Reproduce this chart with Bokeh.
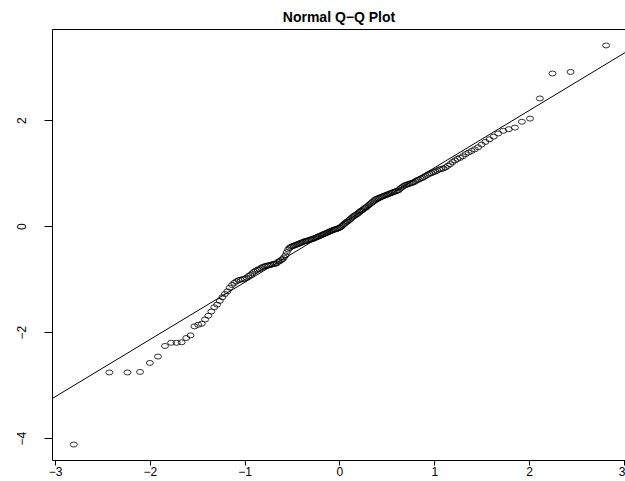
import numpy as np
from statistics import NormalDist
from bokeh.plotting import figure
from bokeh.models import Range1d, FixedTicker, LinearAxis, Slope, Title, ColumnDataSource
from bokeh.embed import file_html
from bokeh.resources import INLINE

# Sample values (sorted)
sample = [
    -4.11, -2.75, -2.75, -2.74, -2.57, -2.45, -2.25, -2.19, -2.19, -2.18,
    -2.10, -2.05, -1.88, -1.85, -1.83, -1.75, -1.68, -1.60, -1.52, -1.47,
    -1.40, -1.33, -1.27, -1.22, -1.15, -1.10, -1.06, -1.03, -1.01, -1.00,
    -0.99, -0.98, -0.96, -0.93, -0.91, -0.88, -0.85, -0.83, -0.81, -0.80,
    -0.78, -0.76, -0.75, -0.74, -0.73, -0.73, -0.72, -0.71, -0.70, -0.70,
    -0.69, -0.66, -0.65, -0.63, -0.61, -0.58, -0.54, -0.48, -0.43, -0.40,
    -0.38, -0.37, -0.36, -0.35, -0.34, -0.33, -0.32, -0.31, -0.30, -0.29,
    -0.28, -0.27, -0.27, -0.26, -0.25, -0.24, -0.24, -0.23, -0.22, -0.21,
    -0.20, -0.19, -0.18, -0.17, -0.16, -0.15, -0.14, -0.13, -0.12, -0.11,
    -0.10, -0.09, -0.08, -0.07, -0.06, -0.05, -0.05, -0.04, -0.03, -0.02,
    -0.01, 0.01, 0.03, 0.05, 0.07, 0.09, 0.10, 0.12, 0.14, 0.16,
    0.18, 0.20, 0.21, 0.23, 0.24, 0.26, 0.28, 0.30, 0.31, 0.33,
    0.35, 0.36, 0.38, 0.40, 0.42, 0.44, 0.46, 0.48, 0.50, 0.52,
    0.53, 0.54, 0.55, 0.56, 0.57, 0.58, 0.59, 0.60, 0.61, 0.62,
    0.63, 0.64, 0.65, 0.66, 0.67, 0.68, 0.69, 0.72, 0.74, 0.76,
    0.78, 0.79, 0.80, 0.81, 0.82, 0.83, 0.84, 0.86, 0.88, 0.89,
    0.91, 0.92, 0.94, 0.96, 0.98, 1.00, 1.01, 1.03, 1.04, 1.06,
    1.08, 1.09, 1.10, 1.12, 1.15, 1.18, 1.22, 1.25, 1.28, 1.30,
    1.33, 1.37, 1.40, 1.43, 1.46, 1.50, 1.55, 1.60, 1.65, 1.70,
    1.76, 1.81, 1.84, 1.87, 1.98, 2.04, 2.42, 2.89, 2.92, 3.42,
]

title_text = "Normal Q\u2212Q Plot"
x_ticks = [-3, -2, -1, 0, 1, 2, 3]
y_ticks = [-4, -2, 0, 2]

FONT = "Liberation Sans"

# Q-Q transform (as R's qqnorm / qqline)
y = np.sort(np.array(sample, dtype=float))
n = len(y)
nd = NormalDist()
a = 3.0 / 8.0 if n <= 10 else 0.5
probs = (np.arange(1, n + 1) - a) / (n + 1 - 2 * a)
x = np.array([nd.inv_cdf(float(pv)) for pv in probs])

q1, q3 = np.percentile(y, [25, 75])
z1, z3 = nd.inv_cdf(0.25), nd.inv_cdf(0.75)
slope = (q3 - q1) / (z3 - z1)
intercept = q1 - slope * z1

# R-style 4% padding; right side slightly cropped by the window
padx = 0.04 * (x.max() - x.min())
pady = 0.04 * (y.max() - y.min())
x_range = Range1d(x.min() - padx, x.max() + padx - 0.02)
y_range = Range1d(y.min() - pady, y.max() + pady)

p = figure(width=625, height=481, output_backend="svg", toolbar_location=None,
           x_range=x_range, y_range=y_range,
           x_axis_location=None, y_axis_location=None,
           min_border_left=52, min_border_right=0, min_border_top=29, min_border_bottom=21)
p.outline_line_color = None
p.xgrid.grid_line_color = None
p.ygrid.grid_line_color = None
p.background_fill_color = "white"
p.border_fill_color = "white"

def minus(v):
    return str(v).replace("-", "\u2212")

xaxis = LinearAxis(ticker=FixedTicker(ticks=x_ticks),
                   major_label_overrides={t: minus(t) for t in x_ticks})
yaxis = LinearAxis(ticker=FixedTicker(ticks=y_ticks),
                   major_label_overrides={t: minus(t) for t in y_ticks})
for ax in (xaxis, yaxis):
    ax.axis_line_color = "black"
    ax.axis_line_width = 1
    ax.major_tick_line_color = "black"
    ax.major_tick_in = 0
    ax.minor_tick_line_color = None
    ax.major_label_text_font = FONT
    ax.major_label_text_font_size = "12px"
    ax.major_label_text_color = "black"
xaxis.major_tick_out = 5
xaxis.major_label_standoff = 1
yaxis.major_tick_out = 8
yaxis.major_label_standoff = 18
yaxis.major_label_orientation = "parallel"
p.add_layout(xaxis, "below")
p.add_layout(yaxis, "left")

top = LinearAxis(ticker=FixedTicker(ticks=[]), axis_line_color="black",
                 major_tick_line_color=None, minor_tick_line_color=None,
                 major_label_text_font_size="0px", major_tick_out=0, major_label_standoff=0)
p.add_layout(top, "above")

p.title = Title(text=title_text, align="center", text_font=FONT,
                text_font_size="14px", text_font_style="bold", text_color="black")

src = ColumnDataSource(dict(x=x, y=y))
p.ellipse(x="x", y="y", width=7, height=5, width_units="screen", height_units="screen",
          fill_color=None, line_color="black", line_width=0.8, source=src)

p.add_layout(Slope(gradient=slope, y_intercept=intercept, line_color="black", line_width=1))

open("out.html", "w").write(file_html(p, INLINE))
